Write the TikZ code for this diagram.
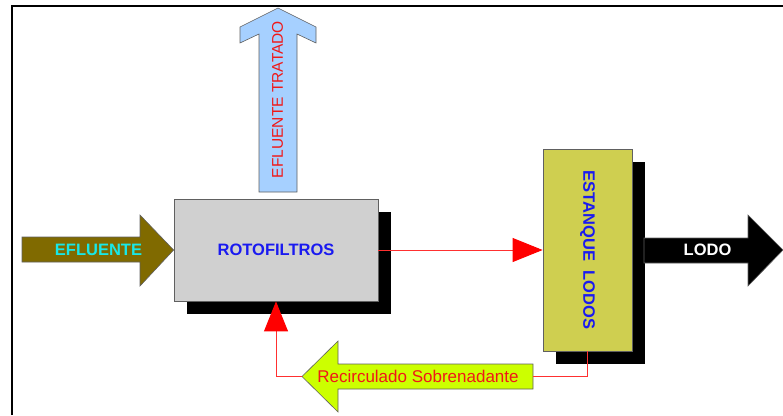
\documentclass[tikz,border=0pt]{standalone}
\usepackage{fontspec}
\setmainfont{Liberation Sans}
\usetikzlibrary{arrows.meta,shadows}
\definecolor{boxgray}{HTML}{D0D0D0}
\definecolor{tankyellow}{HTML}{CFCF50}
\definecolor{olivearrow}{HTML}{806A00}
\definecolor{skyarrow}{HTML}{A6D0FF}
\definecolor{limearrow}{HTML}{CCFF00}
\definecolor{textblue}{HTML}{1A1AF0}
\definecolor{textred}{HTML}{F01818}
\definecolor{textcyan}{HTML}{18E8E8}
\definecolor{edgegray}{HTML}{606060}
\definecolor{linered}{HTML}{FF3030}
\begin{document}
\begin{tikzpicture}[x=1pt,y=-1pt,
  procbox/.style={draw=edgegray, line width=0.8pt, inner sep=0pt,
    text=textblue, font=\fontsize{16.5}{18}\selectfont\bfseries,
    drop shadow={shadow xshift=12.5pt, shadow yshift=-12.5pt, fill=black, opacity=1}},
  fatarrow/.style={draw=edgegray, line width=0.6pt},
  redline/.style={draw=linered, line width=0.9pt},
  redtip/.style={-{Triangle[length=30pt,width=24pt,color=red]}},
  boldlabel/.style={font=\fontsize{16.5}{18}\selectfont\bfseries, inner sep=0pt},
  plainlabel/.style={font=\fontsize{17}{19}\selectfont, inner sep=0pt}]
\useasboundingbox (0,0) rectangle (783,415);
\draw[line width=2pt] (12,415) -- (12,6) -- (783,6);
% boxes
\node[procbox, fill=boxgray, minimum width=204pt, minimum height=102pt] (roto) at (276,250) {ROTOFILTROS};
\node[procbox, fill=tankyellow, minimum width=89pt, minimum height=202pt] (tank) at (587.5,250) {\rotatebox{-90}{ESTANQUE\ \ LODOS}};
% inflow arrow
\fill[olivearrow, fatarrow] (22,237) -- (140,237) -- (140,215) -- (roto.west) -- (140,286) -- (140,262) -- (22,262) -- cycle;
\node[boldlabel, text=textcyan] (inlbl) at (98.5,250) {EFLUENTE};
% treated effluent arrow
\fill[skyarrow, fatarrow] (278,8) -- (316,27) -- (316,43) -- (297,34) -- (297,192) -- (259,192) -- (259,34) -- (240,43) -- (240,27) -- cycle;
\node[font=\fontsize{15.5}{17}\selectfont, inner sep=0pt, text=textred, rotate=90] (toplbl) at (277.5,99.5) {EFLUENTE TRATADO};
% sludge arrow
\fill[black, fatarrow] (644,238) -- (748,238) -- (748,215) -- (783,250) -- (748,286) -- (748,263) -- (644,263) -- cycle;
\node[boldlabel, text=white] (lodolbl) at (707.5,250) {LODO};
% recirculation arrow
\coordinate (rtip) at (302,376.5);
\coordinate (rtail) at (533,376.5);
\fill[limearrow, fatarrow] (rtip) -- (338,341) -- (338,364) -- (533,364) -- (533,389) -- (338,389) -- (338,412) -- cycle;
\node[plainlabel, text=textred] (reclbl) at (418,376.5) {Recirculado Sobrenadante};
% connectors
\draw[redline, redtip] (roto.east) -- (tank.west);
\draw[redline] (tank.south) |- (rtail);
\draw[redline, redtip] (rtip) -| (roto.south);
\end{tikzpicture}
\end{document}
